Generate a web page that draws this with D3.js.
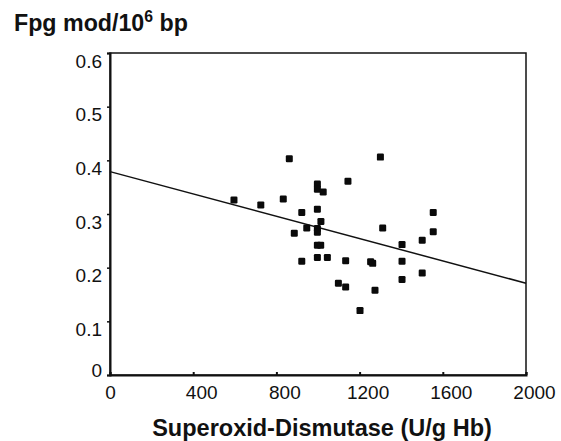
<!DOCTYPE html>
<html><head><meta charset="utf-8">
<script src="https://cdn.jsdelivr.net/npm/d3@7"></script>
<style>body{margin:0;background:#fff}svg{display:block}</style>
</head><body>
<script>
const sodX = [862,1300,1144,997,997,1025,596,725,833,922,997,1014,946,886,997,997,1311,997,1013,922,997,1045,1133,1253,1263,1098,1133,1274,1202,1554,1554,1501,1404,1404,1501,1404];
const fpgY = [0.403,0.406,0.361,0.356,0.346,0.341,0.326,0.317,0.328,0.303,0.309,0.286,0.274,0.264,0.273,0.266,0.274,0.242,0.242,0.212,0.219,0.219,0.213,0.211,0.208,0.171,0.164,0.158,0.120,0.303,0.267,0.251,0.243,0.212,0.190,0.178];
const fitX = [0, 2000];
const fitY = [0.379, 0.171];
const xTicks = [0,400,800,1200,1600,2000];
const yTicks = [0,0.1,0.2,0.3,0.4,0.5,0.6];

const W=561,H=441;
const svg=d3.select("body").append("svg").attr("width",W).attr("height",H);
const x=d3.scaleLinear().domain([0,2000]).range([110,526]);
const y=d3.scaleLinear().domain([0,0.6]).range([375,53]);
const font="Liberation Sans, Arial, sans-serif";

// frame
svg.append("rect").attr("x",110).attr("y",53).attr("width",416).attr("height",322)
  .attr("fill","none").attr("stroke","#111").attr("stroke-width",1.5);

// x axis
const gx=svg.append("g").attr("transform","translate(0,375)")
  .call(d3.axisBottom(x).tickValues(xTicks).tickSize(-3).tickFormat(d3.format("d")));
gx.select(".domain").attr("stroke","#111").attr("stroke-width",2);
gx.selectAll("text").attr("font-family",font).attr("font-size",19).attr("fill","#111")
  .attr("y",24).attr("dy",0).attr("dx",d=>d===0?0:8);
gx.selectAll("line").attr("stroke","#111").attr("stroke-width",2);

// y axis
const gy=svg.append("g").attr("transform","translate(110,0)")
  .call(d3.axisLeft(y).tickValues(yTicks).tickSize(3).tickPadding(5).tickFormat(d=>d===0?"0":d3.format(".1f")(d)));
gy.select(".domain").attr("stroke","#111").attr("stroke-width",2);
gy.selectAll("text").attr("font-family",font).attr("font-size",19).attr("fill","#111")
  .attr("dy",0).attr("y",d=>d===0?1:14);
gy.selectAll("line").attr("stroke","#111").attr("stroke-width",1.5);

// fit line
svg.append("line").attr("x1",x(fitX[0])).attr("y1",y(fitY[0])).attr("x2",x(fitX[1])).attr("y2",y(fitY[1]))
  .attr("stroke","#111").attr("stroke-width",1.5);

// points
const pts=sodX.map((v,i)=>({x:v,y:fpgY[i]}));
svg.append("g").selectAll("rect").data(pts).join("rect")
  .attr("x",d=>x(d.x)-3.5).attr("y",d=>y(d.y)-3.5).attr("width",7).attr("height",7).attr("rx",1.2)
  .attr("fill","#0a0a0a");

// titles
function fit(sel,target,base){
  const w=sel.node().getComputedTextLength();
  return base*target/w;
}
const t=svg.append("text").attr("x",14).attr("y",31).attr("font-family",font).attr("font-weight","bold")
  .attr("font-size",20).attr("fill","#111");
t.append("tspan").text("Fpg mod/10");
t.append("tspan").attr("font-size","0.68em").attr("dy","-0.55em").text("6");
t.append("tspan").attr("dy","0.374em").text(" bp");
t.attr("font-size",fit(t,174,20));

const xt=svg.append("text").attr("x",322).attr("y",436).attr("text-anchor","middle").attr("font-family",font)
  .attr("font-weight","bold").attr("font-size",21).attr("fill","#111").text("Superoxid-Dismutase (U/g Hb)");
xt.attr("font-size",fit(xt,340,21));
</script>
</body></html>
